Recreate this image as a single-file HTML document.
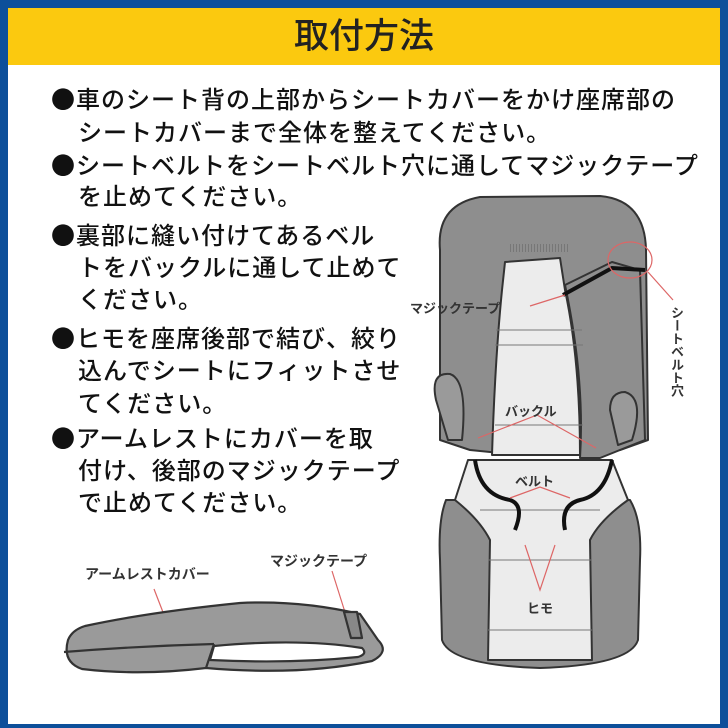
<!DOCTYPE html>
<html><head><meta charset="utf-8"><style>
html,body{margin:0;padding:0;}
body{width:728px;height:728px;position:relative;overflow:hidden;background:#0d4f9a;font-family:"Liberation Sans","Noto Sans CJK JP",sans-serif;}
#in{position:absolute;left:8px;top:8px;width:712px;height:716px;background:#fff;}
#hd{position:absolute;left:0;top:0;width:712px;height:57px;background:#fbc90f;text-align:center;font-size:35px;line-height:57px;color:#222;font-weight:500;}
.t{position:absolute;font-size:24px;letter-spacing:1px;color:#111;font-weight:500;white-space:nowrap;line-height:1;font-family:"Noto Sans CJK JP",sans-serif;}
.l{position:absolute;font-size:13px;color:#333;font-weight:bold;white-space:nowrap;font-family:"Noto Sans CJK JP",sans-serif;}
svg{position:absolute;left:0;top:0;}
</style></head><body>
<div id="in">
<div id="hd">取付方法</div>
</div>
<div class="t" style="left:51px;top:86px">●車のシート背の上部からシートカバーをかけ座席部の</div>
<div class="t" style="left:78px;top:119px">シートカバーまで全体を整えてください。</div>
<div class="t" style="left:51px;top:152px">●シートベルトをシートベルト穴に通してマジックテープ</div>
<div class="t" style="left:78px;top:183px">を止めてください。</div>
<div class="t" style="left:51px;top:222px">●裏部に縫い付けてあるベル</div>
<div class="t" style="left:78px;top:254px">トをバックルに通して止めて</div>
<div class="t" style="left:78px;top:286px">ください。</div>
<div class="t" style="left:51px;top:325px">●ヒモを座席後部で結び、絞り</div>
<div class="t" style="left:78px;top:357px">込んでシートにフィットさせ</div>
<div class="t" style="left:78px;top:390px">てください。</div>
<div class="t" style="left:51px;top:425px">●アームレストにカバーを取</div>
<div class="t" style="left:78px;top:457px">付け、後部のマジックテープ</div>
<div class="t" style="left:78px;top:489px">で止めてください。</div>
<svg width="728" height="728" viewBox="0 0 728 728">
<g stroke="#333" stroke-width="2" stroke-linejoin="round">
<path d="M446 500 Q438 520 440 560 L442 640 Q450 665 540 668 Q630 665 638 640 L640 560 Q642 520 630 500 Z" fill="#8e8e8e"/>
<path d="M468 460 L612 460 L628 500 Q600 520 590 540 L592 660 L488 660 L490 540 Q480 520 455 500 Z" fill="#ececec"/>
<path d="M440 250 Q436 205 480 197 L600 196 Q645 200 646 250 L648 440 L620 450 L560 455 L520 455 L470 450 L440 440 Z" fill="#8e8e8e"/>
<path d="M505 262 L560 258 L565 290 Q580 360 580 455 L492 455 Q495 360 502 290 Z" fill="#ececec"/>
<path d="M565 285 L612 262 L640 270 L645 440 L600 458 L580 458 Q585 380 565 285 Z" fill="#8e8e8e"/>
<path d="M436 400 Q430 372 450 374 Q468 380 462 440 L448 440 Z" fill="#9a9a9a"/>
<path d="M610 410 Q610 392 625 392 Q645 398 632 440 L618 445 Z" fill="#9a9a9a"/>
</g>
<g stroke="#777" stroke-width="1" fill="none">
<line x1="496" y1="330" x2="582" y2="330"/><line x1="495" y1="345" x2="583" y2="345"/>
<line x1="495" y1="425" x2="583" y2="425"/><line x1="480" y1="510" x2="600" y2="510"/>
<line x1="488" y1="560" x2="592" y2="560"/><line x1="488" y1="630" x2="592" y2="630"/>
<line x1="510" y1="248" x2="570" y2="248" stroke-dasharray="1 2" stroke-width="8"/>
</g>
<g stroke="#111" stroke-width="4" fill="none">
<path d="M563 295 L612 268 L645 270"/>
<path d="M475 460 Q480 495 510 500 Q525 505 515 530"/>
<path d="M612 460 Q605 495 580 500 Q560 505 565 530"/>
</g>
<g stroke="#d66" stroke-width="1.2" fill="none">
<ellipse cx="630" cy="260" rx="22" ry="18"/>
<line x1="648" y1="272" x2="673" y2="300"/>
<line x1="530" y1="306" x2="565" y2="295"/>
<path d="M478 438 L537 415 L596 448"/>
<path d="M510 498 L540 487 L570 498"/>
<path d="M525 545 L540 590 L555 545"/>
<line x1="154" y1="589" x2="166" y2="620"/>
<line x1="332" y1="571" x2="350" y2="628"/>
</g>
<g stroke="#333" stroke-width="2.2" fill="#9a9a9a" stroke-linejoin="round">
<path d="M68 640 Q62 662 82 669 Q140 676 206 668 Q300 676 372 661 Q390 652 378 640 L360 614 Q300 600 240 603 Q150 612 85 626 Q72 630 68 640Z"/>
<path d="M214 646 Q300 638 362 648 Q368 654 358 657 Q290 664 210 660 Z" fill="#fff"/>
<path d="M64 652 Q140 646 214 644" fill="none"/>
<line x1="214" y1="644" x2="206" y2="668"/>
<path d="M344 612 L351 638 L362 638 L357 612 Z" fill="#888"/>
</g>
</svg>
<div class="l" style="left:410px;top:298px">マジックテープ</div>
<div class="l" style="left:505px;top:401px">バックル</div>
<div class="l" style="left:515px;top:471px">ベルト</div>
<div class="l" style="left:527px;top:598px">ヒモ</div>
<div class="l" style="left:668px;top:306px;writing-mode:vertical-rl;">シートベルト穴</div>
<div class="l" style="left:85px;top:564px;font-size:14px">アームレストカバー</div>
<div class="l" style="left:270px;top:551px;font-size:14px">マジックテープ</div>
</body></html>
